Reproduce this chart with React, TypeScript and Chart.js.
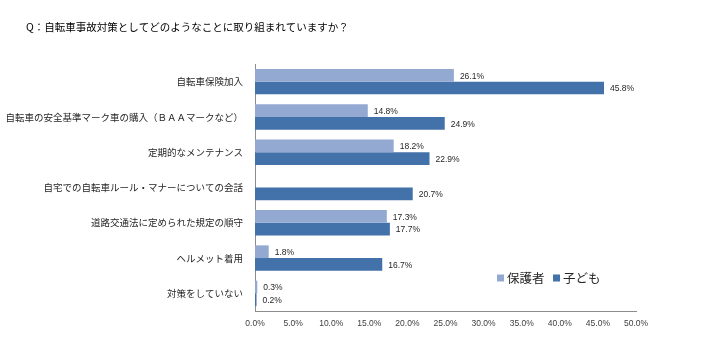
import React, { useEffect, useRef } from "react";
import { Chart, registerables } from "chart.js";

Chart.register(...registerables);

const TITLE = "Q：自転車事故対策としてどのようなことに取り組まれていますか？";
const categories = [
  "自転車保険加入",
  "自転車の安全基準マーク車の購入（ＢＡＡマークなど）",
  "定期的なメンテナンス",
  "自宅での自転車ルール・マナーについての会話",
  "道路交通法に定められた規定の順守",
  "ヘルメット着用",
  "対策をしていない",
];
const seriesNames = ["保護者", "子ども"];
const guardianValues: (number | null)[] = [26.1, 14.8, 18.2, null, 17.3, 1.8, 0.3];
const childValues: (number | null)[] = [45.8, 24.9, 22.9, 20.7, 17.7, 16.7, 0.2];
const colors = ["#93A9D1", "#4371A9"];
const xTicks = { min: 0, max: 50, step: 5 };

const JP = "'Noto Sans CJK JP', 'Noto Sans', sans-serif";
const LAT = "'Liberation Sans', Arial, sans-serif";

const overlayPlugin = {
  id: "overlay",
  afterDatasetsDraw(chart: any) {
    const ctx = chart.ctx;
    ctx.save();
    ctx.font = `8.5px ${LAT}`;
    ctx.fillStyle = "#262626";
    ctx.textAlign = "left";
    ctx.textBaseline = "middle";
    chart.data.datasets.forEach((ds: any, di: number) => {
      const meta = chart.getDatasetMeta(di);
      meta.data.forEach((el: any, i: number) => {
        const v = ds.data[i];
        if (v === null || v === undefined) return;
        ctx.fillText(v.toFixed(1) + "%", el.x + 6, el.y + 1);
      });
    });
    ctx.restore();
  },
  afterDraw(chart: any) {
    const ctx = chart.ctx;
    const area = chart.chartArea;
    ctx.save();
    ctx.font = `10.5px ${JP}`;
    ctx.fillStyle = "#000000";
    ctx.textAlign = "left";
    ctx.textBaseline = "middle";
    ctx.fillText(TITLE, 26, 27);
    ctx.font = `12.5px ${JP}`;
    let x = area.left + 242;
    const y = 278;
    seriesNames.forEach((name, i) => {
      ctx.fillStyle = colors[i];
      ctx.fillRect(x, y - 3.5, 7, 7);
      ctx.fillStyle = "#262626";
      ctx.fillText(name, x + 10, y);
      x += 56;
    });
    ctx.restore();
  },
};

export default function App() {
  const ref = useRef<HTMLCanvasElement | null>(null);
  useEffect(() => {
    if (!ref.current) return;
    const chart = new Chart(ref.current, {
      type: "bar",
      data: {
        labels: categories,
        datasets: [
          {
            label: seriesNames[0],
            data: guardianValues,
            backgroundColor: colors[0],
            categoryPercentage: 0.72,
            barPercentage: 1.0,
          },
          {
            label: seriesNames[1],
            data: childValues,
            backgroundColor: colors[1],
            categoryPercentage: 0.72,
            barPercentage: 1.0,
          },
        ],
      },
      options: {
        indexAxis: "y",
        animation: false,
        responsive: false,
        maintainAspectRatio: false,
        layout: { padding: { left: 0, right: 71, top: 64, bottom: 0 } },
        plugins: {
          legend: { display: false },
          title: { display: false },
          tooltip: { enabled: false },
        },
        scales: {
          x: {
            min: xTicks.min,
            max: xTicks.max,
            afterFit: (s: any) => {
              s.height = 41;
            },
            grid: { display: false, drawTicks: false },
            border: { display: true, color: "#8C8C8C", width: 1 },
            ticks: {
              stepSize: xTicks.step,
              padding: 8,
              color: "#404040",
              font: { family: LAT, size: 8.5 },
              callback: (v: any) => Number(v).toFixed(1) + "%",
            },
          },
          y: {
            afterFit: (s: any) => {
              s.width = 255;
            },
            grid: { display: false, drawTicks: false },
            border: { display: true, color: "#8C8C8C", width: 1 },
            ticks: {
              padding: 12,
              color: "#262626",
              font: { family: JP, size: 9.5 },
            },
          },
        },
      },
      plugins: [overlayPlugin],
    });
    return () => chart.destroy();
  }, []);
  return (
    <div style={{ position: "absolute", left: 0, top: 0, width: 707, height: 352, background: "#fff" }}>
      <canvas ref={ref} width={707} height={352} style={{ width: 707, height: 352 }} />
    </div>
  );
}
